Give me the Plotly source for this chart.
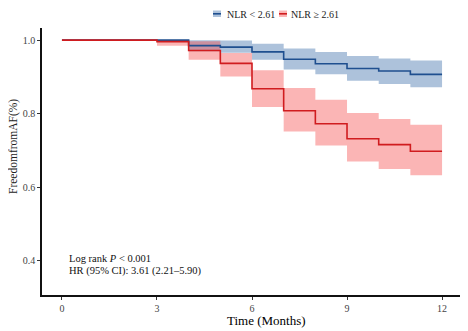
import plotly.graph_objects as go

months = [0, 3, 4, 5, 6, 7, 8, 9, 10, 11, 12]
low_surv = [1.0, 1.0, 0.985, 0.981, 0.968, 0.948, 0.936, 0.923, 0.916, 0.907, 0.907]
low_upper = [1.0, 1.0, 1.0, 0.999, 0.990, 0.977, 0.968, 0.957, 0.950, 0.945, 0.945]
low_lower = [1.0, 1.0, 0.970, 0.966, 0.947, 0.920, 0.907, 0.890, 0.881, 0.872, 0.872]
high_surv = [1.0, 0.996, 0.972, 0.937, 0.868, 0.808, 0.773, 0.732, 0.716, 0.698, 0.698]
high_upper = [1.0, 1.0, 0.997, 0.965, 0.918, 0.870, 0.838, 0.802, 0.786, 0.770, 0.770]
high_lower = [1.0, 0.985, 0.947, 0.901, 0.818, 0.752, 0.714, 0.670, 0.650, 0.633, 0.633]
x_ticks = [0, 3, 6, 9, 12]
y_ticks = [0.4, 0.6, 0.8, 1.0]
labels = ["NLR < 2.61", "NLR ≥ 2.61"]

blue_line = "#1f4f8f"
blue_fill = "rgba(60,110,170,0.42)"
red_line = "#d01c1f"
red_fill = "rgba(244,70,70,0.40)"

FONT = "Liberation Serif"

fig = go.Figure()
for surv, up, lo, lc, fc in [
    (low_surv, low_upper, low_lower, blue_line, blue_fill),
    (high_surv, high_upper, high_lower, red_line, red_fill),
]:
    fig.add_trace(go.Scatter(x=months, y=up, mode="lines", line=dict(width=0, shape="hv"),
                             showlegend=False, hoverinfo="skip"))
    fig.add_trace(go.Scatter(x=months, y=lo, mode="lines", line=dict(width=0, shape="hv"),
                             fill="tonexty", fillcolor=fc, showlegend=False, hoverinfo="skip"))
for surv, lc, name in [(low_surv, blue_line, labels[0]), (high_surv, red_line, labels[1])]:
    fig.add_trace(go.Scatter(x=months, y=surv, mode="lines", name=name,
                             line=dict(color=lc, width=1.6, shape="hv"), showlegend=False))

# page has an 8px body margin: the figure is offset by 8px in the window
OFF = 8
PL, PT, PR, PB = 42, 28, 462, 295  # plot area in window pixels

def px2paper_x(px):
    return (px - PL) / float(PR - PL)

def px2paper_y(py):
    return (PB - py) / float(PB - PT)

legend_items = [(213, 227, labels[0], blue_fill, blue_line), (279, 291, labels[1], red_fill, red_line)]
for kx, tx, lab, fc, lc in legend_items:
    fig.add_shape(type="rect", xref="paper", yref="paper",
                  x0=px2paper_x(kx), x1=px2paper_x(kx + 8),
                  y0=px2paper_y(17), y1=px2paper_y(10.5),
                  fillcolor=fc, line=dict(width=0))
    fig.add_shape(type="line", xref="paper", yref="paper",
                  x0=px2paper_x(kx), x1=px2paper_x(kx + 8),
                  y0=px2paper_y(13.8), y1=px2paper_y(13.8),
                  line=dict(color=lc, width=1.6))
    fig.add_annotation(xref="paper", yref="paper", x=px2paper_x(tx), y=px2paper_y(14),
                       text=lab, showarrow=False, xanchor="left", yanchor="middle",
                       xshift=-2, font=dict(family=FONT, size=10, color="#222"))

fig.add_annotation(x=0.17, y=0.408, xref="x", yref="y", text="Log rank <i>P</i> < 0.001",
                   showarrow=False, xanchor="left", yanchor="middle",
                   font=dict(family=FONT, size=10.5, color="#111"))
fig.add_annotation(x=0.17, y=0.372, xref="x", yref="y", text="HR (95% CI): 3.61 (2.21–5.90)",
                   showarrow=False, xanchor="left", yanchor="middle",
                   font=dict(family=FONT, size=10.5, color="#111"))

# axis titles (placed as in the reference)
fig.add_annotation(xref="paper", yref="paper", x=px2paper_x(266), y=px2paper_y(320),
                   text="Time (Months)", showarrow=False, xanchor="center", yanchor="middle",
                   font=dict(family=FONT, size=13, color="#000"))
fig.add_annotation(xref="paper", yref="paper", x=px2paper_x(13), y=px2paper_y(147),
                   text="FreedomfromAF(%)", showarrow=False, textangle=-90,
                   xanchor="center", yanchor="middle",
                   font=dict(family=FONT, size=11.5, color="#222"))

W, H = 468 - OFF, 331 - OFF
fig.update_layout(
    width=W, height=H,
    margin=dict(l=PL - OFF, r=468 - PR, t=PT - OFF, b=331 - PB),
    paper_bgcolor="white", plot_bgcolor="white",
    font=dict(family=FONT, color="#333"),
    xaxis=dict(range=[-0.63, 12.63], tickvals=x_ticks, ticks="outside", ticklen=3,
               tickcolor="#333", showline=True, linecolor="#111", linewidth=1.5,
               showgrid=False, zeroline=False, tickfont=dict(size=10, color="#444"),
               automargin=False),
    yaxis=dict(range=[0.3075, 1.033], tickvals=y_ticks, tickformat=".1f", ticks="outside",
               ticklen=3, tickcolor="#333", showline=True, linecolor="#111", linewidth=1.5,
               showgrid=False, zeroline=False, tickfont=dict(size=10, color="#444"),
               automargin=False),
)

fig.write_html("out.html")
